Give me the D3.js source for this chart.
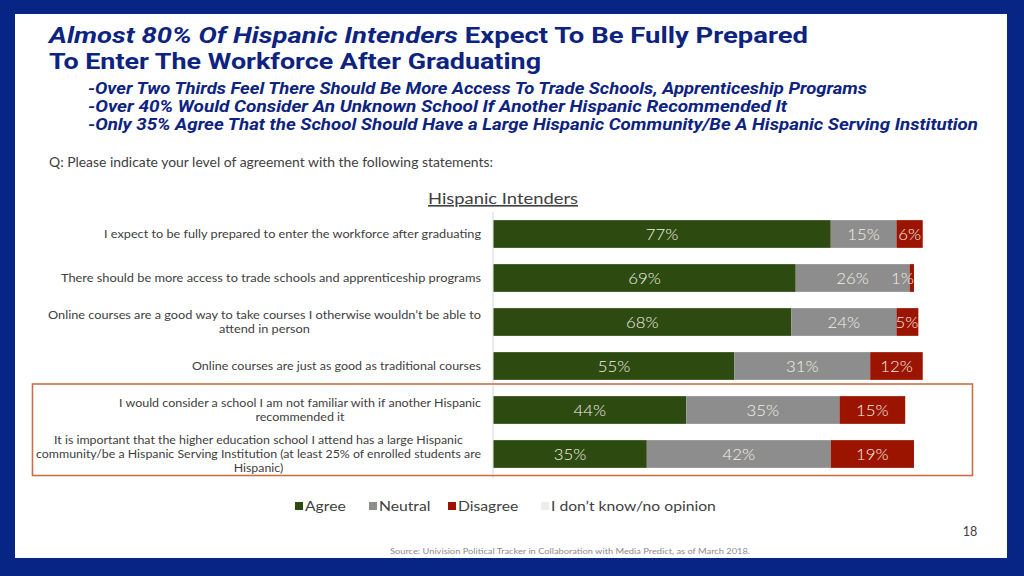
<!DOCTYPE html>
<html><head><meta charset="utf-8">
<script src="https://cdn.jsdelivr.net/npm/d3@7"></script>
<style>
html,body{margin:0;padding:0;background:#fff;}
svg{display:block;}
</style></head>
<body><svg id="chart" width="1024" height="576"></svg>
<script>
const categories = [
  ["I expect to be fully prepared to enter the workforce after graduating"],
  ["There should be more access to trade schools and apprenticeship programs"],
  ["Online courses are a good way to take courses I otherwise wouldn\u2019t be able to", "attend in person"],
  ["Online courses are just as good as traditional courses"],
  ["I would consider a school I am not familiar with if another Hispanic", "recommended it"],
  ["It is important that the higher education school I attend has a large Hispanic", "community/be a Hispanic Serving Institution (at least 25% of enrolled students are", "Hispanic)"]
];
const agree    = [77, 69, 68, 55, 44, 35];
const neutral  = [15, 26, 24, 31, 35, 42];
const disagree = [6, 1, 5, 12, 15, 19];
const seriesNames = ["Agree", "Neutral", "Disagree", "I don\u2019t know/no opinion"];
const seriesColors = ["#2d4a10", "#8d8d8d", "#9a1400", "#ededed"];
const xTicks = [0, 100];

// layout: widest line width of each category label block
const labelBlockWidths = [377, 420, 433, 289, 362, 445];

const svg = d3.select("#chart");
const blue = "#062584";
const titleColor = "#0d2380";

// frame
svg.append("rect").attr("x",0).attr("y",0).attr("width",1024).attr("height",576).attr("fill",blue);
svg.append("rect").attr("x",15).attr("y",14).attr("width",992).attr("height",544).attr("fill","#fff");

function fitText(sel, w){
  sel.attr("textLength", w).attr("lengthAdjust","spacingAndGlyphs");
}
function stretch(sel, f){
  const w = sel.node().getComputedTextLength();
  fitText(sel, w*f);
  return w*f;
}

// Title
const tf = "Roboto,'Liberation Sans',sans-serif";
const t1 = svg.append("text").attr("x",49).attr("y",42.5).attr("font-family",tf)
  .attr("font-size",22.5).attr("font-weight","bold").attr("fill",titleColor);
t1.append("tspan").attr("font-style","italic").text("Almost 80% Of Hispanic Intenders");
t1.append("tspan").text(" Expect To Be Fully Prepared");
fitText(t1, 759);
const t2 = svg.append("text").attr("x",49).attr("y",68.5).attr("font-family",tf)
  .attr("font-size",22.5).attr("font-weight","bold").attr("fill",titleColor)
  .text("To Enter The Workforce After Graduating");
fitText(t2, 492);

const subs = [
  ["-Over Two Thirds Feel There Should Be More Access To Trade Schools, Apprenticeship Programs", 779],
  ["-Over 40% Would Consider An Unknown School If Another Hispanic Recommended It", 699],
  ["-Only 35% Agree That the School Should Have a Large Hispanic Community/Be A Hispanic Serving Institution", 890]
];
subs.forEach((s,i)=>{
  const t = svg.append("text").attr("x",88).attr("y",94+i*18).attr("font-family",tf)
    .attr("font-size",16).attr("font-weight","bold").attr("font-style","italic")
    .attr("fill",titleColor).text(s[0]);
  fitText(t, s[1]);
});

const bodyFont = "Lato,'Open Sans',sans-serif";
const grey = "#404040";
const q = svg.append("text").attr("x",49).attr("y",167).attr("font-family",bodyFont)
  .attr("font-size",12.5).attr("fill",grey)
  .text("Q: Please indicate your level of agreement with the following statements:");
fitText(q, 444);

const hi = svg.append("text").attr("x",428).attr("y",204)
  .attr("font-family",bodyFont).attr("font-size",16).attr("fill",grey)
  .attr("text-decoration","underline").text("Hispanic Intenders");
fitText(hi, 150);

// Scales
const x = d3.scaleLinear().domain([xTicks[0], xTicks[1]]).range([493.5, 931.5]);
const y = d3.scaleBand().domain(d3.range(categories.length)).range([212, 476])
  .paddingInner(0.37).paddingOuter(0.185);

// axis line
svg.append("line").attr("x1",493).attr("x2",493).attr("y1",212).attr("y2",478)
  .attr("stroke","#d9d9d9").attr("stroke-width",1);

// highlight box
svg.append("rect").attr("x",32.5).attr("y",384).attr("width",940).attr("height",91.5)
  .attr("fill","none").attr("stroke","#c8704c").attr("stroke-width",1.6);

const rows = categories.map((c,i)=>({i, Agree:agree[i], Neutral:neutral[i], Disagree:disagree[i]}));
const keys = seriesNames.slice(0,3);
const stack = d3.stack().keys(keys)(rows);

const g = svg.append("g");
stack.forEach((layer,k)=>{
  g.selectAll(null).data(layer).enter().append("rect")
    .attr("x",d=>x(d[0])).attr("width",d=>x(d[1])-x(d[0]))
    .attr("y",d=>y(d.data.i)).attr("height",y.bandwidth())
    .attr("fill",seriesColors[k]);
});

// value labels
stack.forEach((layer,k)=>{
  layer.forEach(d=>{
    const r = rows[d.data.i];
    const end = x(r.Agree + r.Neutral + r.Disagree);
    const t = g.append("text").attr("font-family",bodyFont).attr("font-size",16)
      .attr("font-weight",300)
      .attr("fill","#f3f1e4").attr("text-anchor","middle")
      .attr("y", y(d.data.i)+y.bandwidth()/2+5.5)
      .text((d[1]-d[0])+"%");
    const w = stretch(t, 1.05);
    let cx = (x(d[0])+x(d[1]))/2;
    cx = Math.min(cx, end - w/2);
    t.attr("x", cx);
  });
});

// category labels
categories.forEach((lines,i)=>{
  const cy = y(i)+y.bandwidth()/2;
  const lh = 14;
  const grp = svg.append("g");
  const texts = lines.map((ln,j)=> grp.append("text").attr("font-family",bodyFont)
    .attr("font-size",11).attr("fill",grey).attr("text-anchor","middle")
    .attr("y", cy + (j-(lines.length-1)/2)*lh + 4).text(ln));
  const nat = texts.map(t=>t.node().getComputedTextLength());
  const f = labelBlockWidths[i] / d3.max(nat);
  texts.forEach((t,j)=>fitText(t, nat[j]*f));
  texts.forEach(t=>t.attr("x", 481 - labelBlockWidths[i]/2));
});

// legend
const legX = [295, 369, 448, 541];
seriesNames.forEach((n,k)=>{
  svg.append("rect").attr("x",legX[k]).attr("y",502).attr("width",8).attr("height",8)
    .attr("fill",seriesColors[k]);
  const t = svg.append("text").attr("x",legX[k]+10).attr("y",511).attr("font-family",bodyFont)
    .attr("font-size",14).attr("fill",grey).text(n);
  stretch(t, 1.12);
});

svg.append("text").attr("x",970).attr("y",536).attr("text-anchor","middle")
  .attr("font-family",bodyFont).attr("font-size",12.5).attr("fill",grey).text("18");

const src = svg.append("text").attr("x",390).attr("y",553.5).attr("font-family",bodyFont)
  .attr("font-size",8).attr("fill","#8c8c8c")
  .text("Source: Univision Political Tracker in Collaboration with Media Predict, as of March 2018.");
fitText(src, 360);
</script></body></html>
